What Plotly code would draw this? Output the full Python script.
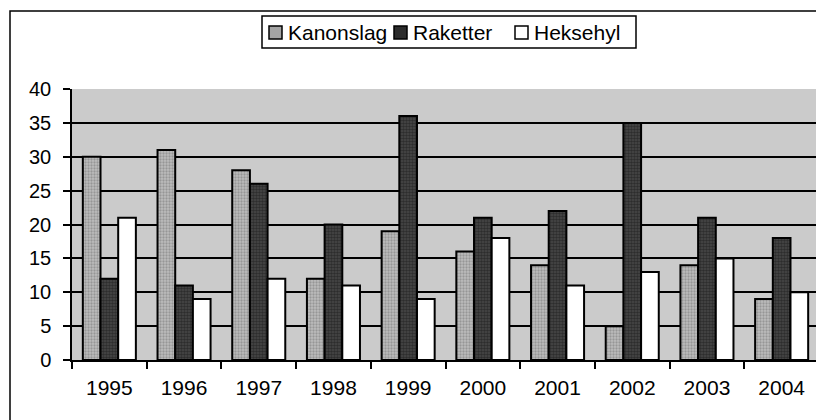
import plotly.graph_objects as go

years = ["1995", "1996", "1997", "1998", "1999", "2000", "2001", "2002", "2003", "2004"]
series_names = ["Kanonslag", "Raketter", "Heksehyl"]
kanonslag = [30, 31, 28, 12, 19, 16, 14, 5, 14, 9]
raketter = [12, 11, 26, 20, 36, 21, 22, 35, 21, 18]
heksehyl = [21, 9, 12, 11, 9, 18, 11, 13, 15, 10]
y_ticks = [0, 5, 10, 15, 20, 25, 30, 35, 40]

FAM = "Liberation Sans, Arial, sans-serif"

# page is offset by the 8px body margin; plot area in page pixels:
PX0, PX1, PY0, PY1 = 72, 819, 89, 360   # left, right, top, bottom
W, H = 816, 412


def px(x):
    return (x - PX0) / (PX1 - PX0)


def py(y):
    return (PY1 - y) / (PY1 - PY0)


fills = ["#a4a4a4", "#2c2c2c", "#ffffff"]
patterns = [
    dict(shape=".", fgcolor="#707070", bgcolor="#bdbdbd", size=3, solidity=0.45),
    dict(shape=".", fgcolor="#101010", bgcolor="#4a4a4a", size=3, solidity=0.6),
    None,
]
values = [kanonslag, raketter, heksehyl]

fig = go.Figure()
for name, vals, col, pat in zip(series_names, values, fills, patterns):
    marker = dict(color=col, line=dict(color="black", width=2))
    if pat:
        marker["pattern"] = pat
    fig.add_trace(go.Bar(x=years, y=vals, name=name, marker=marker, showlegend=False))

shapes = []
# outer chart border
shapes.append(dict(type="rect", xref="paper", yref="paper",
                   x0=px(10), x1=px(840), y0=py(440), y1=py(11),
                   line=dict(color="black", width=1.5), fillcolor="rgba(0,0,0,0)", layer="below"))
# legend box
shapes.append(dict(type="rect", xref="paper", yref="paper",
                   x0=px(262), x1=px(636), y0=py(48), y1=py(16),
                   line=dict(color="black", width=1.5), fillcolor="white", layer="above"))

annotations = []
item_x = [269, 394, 515]
for xs, name, col in zip(item_x, series_names, fills):
    shapes.append(dict(type="rect", xref="paper", yref="paper",
                       x0=px(xs), x1=px(xs + 13), y0=py(39), y1=py(26),
                       line=dict(color="black", width=1.5), fillcolor=col, layer="above"))
    annotations.append(dict(xref="paper", yref="paper", x=px(xs + 17), y=py(32.5),
                            xanchor="left", yanchor="middle", showarrow=False,
                            text=name, font=dict(family=FAM, size=21, color="black")))

fig.update_layout(
    width=W, height=H,
    margin=dict(l=PX0 - 8, r=W - (PX1 - 8), t=PY0 - 8, b=H - (PY1 - 8)),
    paper_bgcolor="white",
    plot_bgcolor="#cbcbcb",
    barmode="group",
    bargap=0.29,
    bargroupgap=0,
    showlegend=False,
    shapes=shapes,
    annotations=annotations,
    xaxis=dict(type="category", tickson="boundaries", ticks="outside", ticklen=7,
               tickcolor="black", tickwidth=1.5, showline=True, linecolor="black", linewidth=1.5,
               showgrid=False, tickfont=dict(family=FAM, size=21, color="black"),
               ticklabelstandoff=8),
    yaxis=dict(range=[0, 40], tickvals=y_ticks, ticks="outside", ticklen=7,
               tickcolor="black", tickwidth=1.5, showline=True, linecolor="black", linewidth=1.5,
               showgrid=True, gridcolor="black", gridwidth=1.5, zeroline=False,
               tickfont=dict(family=FAM, size=20, color="black"),
               ticklabelstandoff=8),
)

fig.write_html("out.html")
